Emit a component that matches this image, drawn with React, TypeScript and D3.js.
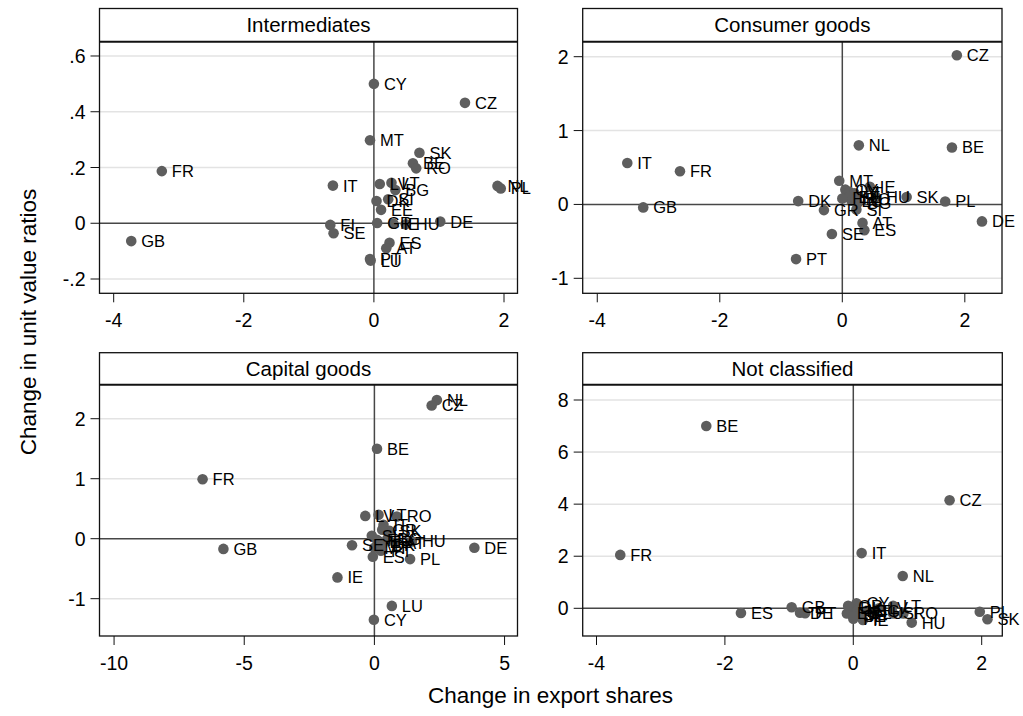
import React from "react";
import * as d3 from "d3";

type Pt = [string, number, number];

const panelTitles = ["Intermediates", "Consumer goods", "Capital goods", "Not classified"];
const xAxisTitle = "Change in export shares";
const yAxisTitle = "Change in unit value ratios";

const intermediates: Pt[] = [
  ["CY", 0.0, 0.5], ["CZ", 1.4, 0.432], ["MT", -0.06, 0.298], ["SK", 0.7, 0.253],
  ["BE", 0.6, 0.215], ["RO", 0.65, 0.197], ["IT", -0.63, 0.135], ["LV", 0.09, 0.141],
  ["LT", 0.27, 0.145], ["BG", 0.33, 0.119], ["DK", 0.04, 0.08], ["SI", 0.22, 0.086],
  ["EE", 0.11, 0.048], ["FI", -0.67, -0.006], ["SE", -0.62, -0.036], ["GR", 0.05, 0.001],
  ["IE", 0.3, -0.002], ["HU", 0.49, -0.004], ["DE", 1.02, 0.006], ["ES", 0.24, -0.07],
  ["AT", 0.19, -0.09], ["PT", -0.06, -0.128], ["LU", -0.05, -0.134], ["NL", 1.9, 0.134],
  ["PL", 1.95, 0.125], ["FR", -3.26, 0.187], ["GB", -3.73, -0.064],
];

const consumerGoods: Pt[] = [
  ["CZ", 1.87, 2.02], ["NL", 0.27, 0.8], ["BE", 1.79, 0.77], ["IT", -3.51, 0.56],
  ["FR", -2.65, 0.45], ["GB", -3.25, -0.04], ["PL", 1.68, 0.04], ["DE", 2.28, -0.23],
  ["SK", 1.05, 0.1], ["DK", -0.72, 0.045], ["GR", -0.3, -0.077], ["SE", -0.17, -0.4],
  ["PT", -0.755, -0.74], ["AT", 0.33, -0.25], ["ES", 0.36, -0.35], ["MT", -0.05, 0.32],
  ["IE", 0.45, 0.24], ["HU", 0.55, 0.1], ["SI", 0.23, -0.07], ["CY", 0.05, 0.2],
  ["LV", 0.12, 0.17], ["LT", 0.2, 0.15], ["LU", 0.15, 0.05], ["EE", 0.1, 0.1],
  ["FI", 0.0, 0.08], ["BG", 0.25, 0.02], ["RO", 0.22, 0.07],
];

const capitalGoods: Pt[] = [
  ["NL", 2.4, 2.31], ["CZ", 2.2, 2.22], ["BE", 0.1, 1.5], ["FR", -6.6, 0.99],
  ["GB", -5.8, -0.17], ["DE", 3.84, -0.15], ["IE", -1.42, -0.645], ["LU", 0.67, -1.12],
  ["CY", -0.02, -1.35], ["PL", 1.37, -0.34], ["ES", -0.06, -0.3], ["HU", 1.44, -0.045],
  ["AT", 0.8, -0.07], ["SE", -0.86, -0.11], ["LV", -0.35, 0.38], ["LT", 0.16, 0.4],
  ["RO", 0.86, 0.37], ["IT", 0.35, 0.23], ["SK", 0.58, 0.13], ["GR", 0.3, 0.15],
  ["SI", -0.1, 0.05], ["EE", 0.2, -0.05], ["FI", 0.1, -0.02], ["DK", 0.3, -0.1],
  ["MT", 0.0, -0.15], ["PT", 0.25, -0.2], ["BG", 0.5, 0.0],
];

const notClassified: Pt[] = [
  ["BE", -2.29, 7.0], ["CZ", 1.5, 4.15], ["FR", -3.63, 2.05], ["IT", 0.13, 2.12],
  ["NL", 0.77, 1.24], ["ES", -1.75, -0.18], ["GB", -0.96, 0.04], ["DE", -0.83, -0.17],
  ["PT", -0.75, -0.19], ["CY", 0.05, 0.19], ["LT", 0.62, 0.1], ["SI", 0.62, -0.2],
  ["RO", 0.78, -0.2], ["HU", 0.91, -0.55], ["PL", 1.97, -0.13], ["SK", 2.09, -0.42],
  ["AT", 0.1, -0.3], ["BG", 0.2, -0.1], ["DK", -0.05, 0.0], ["EE", -0.1, -0.2],
  ["FI", 0.0, -0.4], ["GR", -0.08, 0.1], ["IE", 0.15, -0.45], ["LU", 0.3, -0.2],
  ["LV", 0.4, 0.0], ["MT", 0.05, -0.1], ["SE", 0.0, -0.3],
];

const panelData: Pt[][] = [intermediates, consumerGoods, capitalGoods, notClassified];

const xTicks: number[][] = [[-4, -2, 0, 2], [-4, -2, 0, 2], [-10, -5, 0, 5], [-4, -2, 0, 2]];
const yTicks: number[][] = [[-0.2, 0, 0.2, 0.4, 0.6], [-1, 0, 1, 2], [-1, 0, 1, 2], [0, 2, 4, 6, 8]];

const layouts = [
  { left: 99.5, right: 517.5, top: 8.5, head: 41.7, bottom: 293.3, xDom: [-4.218, 2.2075], yDom: [-0.2513, 0.6513] },
  { left: 582.7, right: 1002, top: 8.5, head: 41.7, bottom: 293.3, xDom: [-4.238, 2.607], yDom: [-1.203, 2.203] },
  { left: 99.5, right: 517.5, top: 352.7, head: 384.7, bottom: 636, xDom: [-10.56, 5.497], yDom: [-1.622, 2.567] },
  { left: 582.7, right: 1002.3, top: 352.7, head: 384.7, bottom: 636, xDom: [-4.215, 2.321], yDom: [-1.064, 8.588] },
];

const FONT = "'Liberation Sans', Arial, Helvetica, sans-serif";

function fmt(v: number): string {
  const s = String(Math.round(v * 100) / 100);
  return s.replace(/^0\./, ".").replace(/^-0\./, "-.");
}

function Panel({ idx }: { idx: number }) {
  const L = layouts[idx];
  const data = panelData[idx];
  const x = d3.scaleLinear().domain(L.xDom).range([L.left, L.right]);
  const y = d3.scaleLinear().domain(L.yDom).range([L.bottom, L.head]);
  return (
    <g>
      {yTicks[idx].filter((t) => t !== 0).map((t) => (
        <line key={"g" + t} x1={L.left} x2={L.right} y1={y(t)} y2={y(t)} stroke="#e3e3e3" strokeWidth={1.5} />
      ))}
      <line x1={L.left} x2={L.right} y1={y(0)} y2={y(0)} stroke="#474747" strokeWidth={1.5} />
      <line x1={x(0)} x2={x(0)} y1={L.head} y2={L.bottom} stroke="#474747" strokeWidth={1.5} />
      {data.map((d, i) => (
        <circle key={"c" + i} cx={x(d[1])} cy={y(d[2])} r={5.3} fill="#5e5e5e" />
      ))}
      {data.map((d, i) => (
        <text key={"t" + i} x={x(d[1]) + 10} y={y(d[2])} dy="0.36em" fontSize={16.5} fontFamily={FONT} fill="#000">
          {d[0]}
        </text>
      ))}
      <rect x={L.left} y={L.top} width={L.right - L.left} height={L.bottom - L.top} fill="none" stroke="#111" strokeWidth={1.3} />
      <line x1={L.left} x2={L.right} y1={L.head} y2={L.head} stroke="#111" strokeWidth={2} />
      <text x={(L.left + L.right) / 2} y={(L.top + L.head) / 2} dy="0.36em" textAnchor="middle" fontSize={20.5} fontFamily={FONT}>
        {panelTitles[idx]}
      </text>
      {yTicks[idx].map((t) => (
        <g key={"yt" + t}>
          <line x1={L.left - 9} x2={L.left} y1={y(t)} y2={y(t)} stroke="#111" strokeWidth={1} />
          <text x={L.left - 14} y={y(t)} dy="0.36em" textAnchor="end" fontSize={19.5} fontFamily={FONT}>
            {fmt(t)}
          </text>
        </g>
      ))}
      {xTicks[idx].map((t) => (
        <g key={"xt" + t}>
          <line x1={x(t)} x2={x(t)} y1={L.bottom} y2={L.bottom + 9} stroke="#111" strokeWidth={1} />
          <text x={x(t)} y={L.bottom + 34} textAnchor="middle" fontSize={19.5} fontFamily={FONT}>
            {fmt(t)}
          </text>
        </g>
      ))}
    </g>
  );
}

export default function App() {
  return (
    <svg width={1023} height={716} style={{ position: "absolute", left: 0, top: 0, background: "#fff" }}>
      <rect x={0} y={0} width={1023} height={716} fill="#fff" />
      {[0, 1, 2, 3].map((i) => (
        <Panel key={i} idx={i} />
      ))}
      <text x={550.5} y={703} textAnchor="middle" fontSize={22.5} fontFamily={FONT}>
        {xAxisTitle}
      </text>
      <text transform="translate(36,322) rotate(-90)" textAnchor="middle" fontSize={22.5} fontFamily={FONT}>
        {yAxisTitle}
      </text>
    </svg>
  );
}
